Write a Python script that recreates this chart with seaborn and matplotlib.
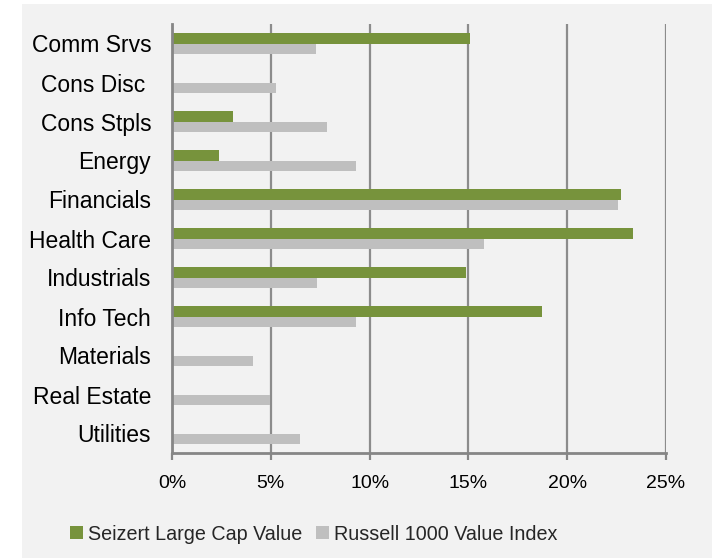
import matplotlib
matplotlib.use("Agg")
import matplotlib.pyplot as plt
import seaborn as sns
import pandas as pd
from matplotlib.patches import Rectangle
from matplotlib.ticker import FuncFormatter

sectors = ["Comm Srvs", "Cons Disc ", "Cons Stpls", "Energy", "Financials",
           "Health Care", "Industrials", "Info Tech", "Materials", "Real Estate", "Utilities"]
seizert = [15.1, 0.0, 3.1, 2.4, 22.7, 23.35, 14.9, 18.7, 0.0, 0.0, 0.0]
russell = [7.3, 5.25, 7.85, 9.3, 22.55, 15.8, 7.35, 9.3, 4.1, 4.95, 6.5]
series_names = ["Seizert Large Cap Value", "Russell 1000 Value Index"]
colors = ["#77933c", "#bfbfbf"]
xticks = [0, 5, 10, 15, 20, 25]

df = pd.DataFrame({
    "Sector": sectors * 2,
    "Value": seizert + russell,
    "Series": [series_names[0]] * len(sectors) + [series_names[1]] * len(sectors),
})

sns.set_theme(style="white")
plt.rcParams["font.family"] = ["Liberation Sans", "DejaVu Sans"]

fig = plt.figure(figsize=(7.12, 5.6), dpi=100)
fig.patch.set_facecolor("white")
fig.add_artist(Rectangle((22 / 712, 2 / 560), 1 - 22 / 712, 554 / 560,
                         transform=fig.transFigure, facecolor="#f2f2f2",
                         edgecolor="none", zorder=0))

ax = fig.add_axes([172 / 712, 1 - 453 / 560, (666 - 172) / 712, (453 - 24) / 560])
ax.set_facecolor("#f2f2f2")

sns.barplot(data=df, y="Sector", x="Value", hue="Series", order=sectors,
            hue_order=series_names, palette=colors, orient="h",
            width=0.56, gap=0, ax=ax, legend=True, saturation=1,
            edgecolor="none")

ax.set_xlim(0, 25)
ax.set_ylim(10.5, -0.5)
ax.set_xticks(xticks)
ax.xaxis.set_major_formatter(FuncFormatter(lambda v, p: f"{v:.0f}%"))
ax.grid(axis="x", color="#8c8c8c", linewidth=1.6, zorder=0)
ax.set_axisbelow(True)
ax.set_xlabel("")
ax.set_ylabel("")
for s in ["top", "right"]:
    ax.spines[s].set_visible(False)
for s in ["left", "bottom"]:
    ax.spines[s].set_color("#868686")
    ax.spines[s].set_linewidth(2)
ax.tick_params(axis="x", bottom=True, length=5, width=1.6, color="#868686",
               pad=11, labelsize=14, labelcolor="black")
ax.tick_params(axis="y", left=False, pad=9, labelsize=16.5, labelcolor="black")

handles, labels = ax.get_legend_handles_labels()
ax.get_legend().remove()
fig.legend(handles, labels, loc="center left",
           bbox_to_anchor=(70 / 712, 1 - 534 / 560), ncol=2, frameon=False,
           fontsize=14.2, handlelength=0.65, handleheight=0.65, handletextpad=0.25,
           columnspacing=0.7, borderaxespad=0, borderpad=0)

fig.savefig("out.png", dpi=100, facecolor="white")
